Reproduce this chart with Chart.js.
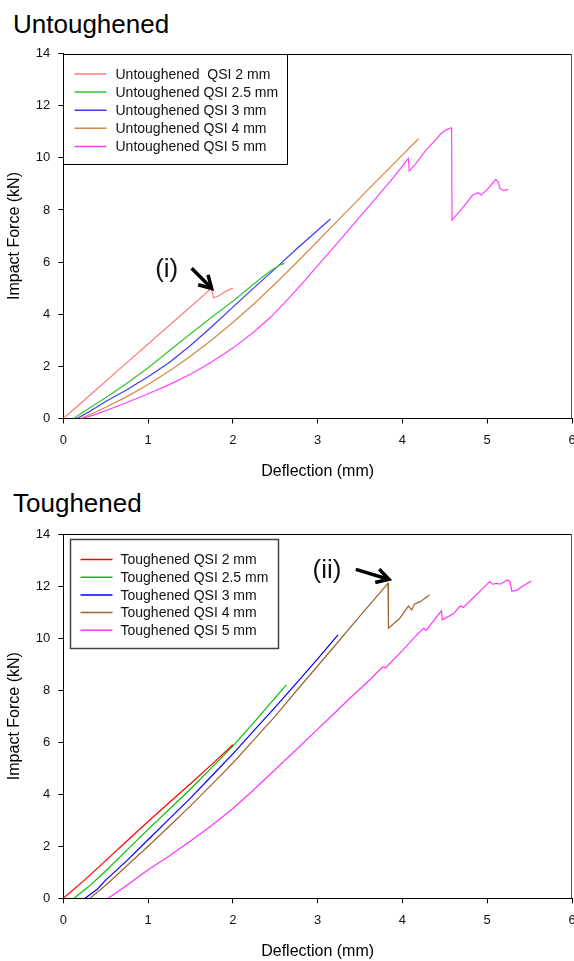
<!DOCTYPE html>
<html><head><meta charset="utf-8">
<script src="https://cdn.jsdelivr.net/npm/chart.js@4.4.0/dist/chart.umd.min.js"></script>
<style>
html,body{margin:0;padding:0;background:#fff;}
body{width:574px;height:961px;position:relative;overflow:hidden;font-family:"Liberation Sans",Arial,sans-serif;}
.ttl{position:absolute;left:13px;font-size:26px;line-height:26px;color:#000;white-space:nowrap;}
canvas{position:absolute;left:0;display:block;}
</style></head><body>
<div class="ttl" style="top:11px">Untoughened</div>
<div class="ttl" style="top:490px">Toughened</div>
<canvas id="c1" width="574" height="490" style="top:0"></canvas>
<canvas id="c2" width="574" height="471" style="top:490px"></canvas>
<script>
// ---- tick labels ----
const xTickVals = [0, 1, 2, 3, 4, 5, 6];
const yTickVals = [0, 2, 4, 6, 8, 10, 12, 14];

// ---- Untoughened series (deflection mm / force kN) ----
const u2x  = [0, 0.35, 0.7, 1.05, 1.4, 1.75, 1.77, 1.83, 1.9, 2.0];
const u2y  = [0, 1.0, 2.0, 3.0, 4.0, 5.0, 4.63, 4.7, 4.85, 5.0];
const u25x = [0.12, 0.3, 0.5, 0.75, 1.0, 1.25, 1.5, 1.75, 2.0, 2.3, 2.45, 2.55, 2.61];
const u25y = [0, 0.38, 0.8, 1.35, 1.95, 2.6, 3.25, 3.88, 4.5, 5.3, 5.68, 5.88, 5.95];
const u3x  = [0.16, 0.3, 0.5, 0.75, 1.0, 1.25, 1.5, 1.75, 2.0, 2.25, 2.5, 2.75, 3.0, 3.15];
const u3y  = [0, 0.25, 0.65, 1.1, 1.6, 2.15, 2.8, 3.52, 4.27, 5.02, 5.75, 6.5, 7.22, 7.65];
const u4x  = [0.2, 0.35, 0.5, 0.75, 1.0, 1.25, 1.5, 1.75, 2.0, 2.25, 2.5, 2.77, 3.0, 3.3, 3.6, 3.93, 4.19];
const u4y  = [0, 0.2, 0.43, 0.84, 1.3, 1.82, 2.39, 3.01, 3.68, 4.4, 5.17, 6.04, 6.8, 7.8, 8.8, 9.88, 10.73];
const u5x  = [0.22, 0.4, 0.6, 0.8, 1.0, 1.25, 1.5, 1.75, 2.0, 2.25, 2.45, 2.62, 2.79, 3.0, 3.26, 3.5, 3.7, 3.9, 4.07, 4.08, 4.15, 4.28, 4.38, 4.46, 4.52, 4.58, 4.585, 4.72, 4.83, 4.89, 4.93, 5.03, 5.10, 5.13, 5.15, 5.19, 5.25];
const u5y  = [0, 0.18, 0.42, 0.68, 0.95, 1.3, 1.7, 2.17, 2.7, 3.33, 3.9, 4.47, 5.08, 5.86, 6.83, 7.74, 8.5, 9.27, 9.98, 9.49, 9.75, 10.3, 10.65, 10.94, 11.08, 11.15, 7.61, 8.13, 8.57, 8.66, 8.57, 8.89, 9.17, 9.08, 8.83, 8.74, 8.79];
const untLabels = ["Untoughened  QSI 2 mm", "Untoughened QSI 2.5 mm", "Untoughened QSI 3 mm", "Untoughened QSI 4 mm", "Untoughened QSI 5 mm"];
const untColors = ["#ff7a7a", "#33c633", "#3a3aff", "#d08a45", "#ff40ff"];

// ---- Toughened series ----
const t2x  = [0, 0.25, 0.5, 0.75, 1.0, 1.25, 1.5, 1.8, 2.0];
const t2y  = [0, 0.7, 1.45, 2.2, 2.95, 3.68, 4.4, 5.29, 5.9];
const t25x = [0.126, 0.3, 0.5, 0.75, 1.0, 1.25, 1.5, 1.75, 2.0, 2.3, 2.63];
const t25y = [0, 0.45, 1.05, 1.85, 2.65, 3.42, 4.2, 5.02, 5.85, 6.95, 8.2];
const t3x  = [0.256, 0.4, 0.5, 0.75, 1.0, 1.25, 1.5, 1.75, 2.0, 2.25, 2.5, 2.75, 3.0, 3.24];
const t3y  = [0, 0.35, 0.7, 1.45, 2.25, 3.05, 3.85, 4.7, 5.55, 6.45, 7.35, 8.27, 9.2, 10.12];
const t4x  = [0.315, 0.5, 0.75, 1.0, 1.25, 1.5, 1.75, 2.0, 2.25, 2.5, 2.79, 3.24, 3.5, 3.83, 3.835, 3.97, 4.07, 4.11, 4.14, 4.21, 4.32];
const t4y  = [0, 0.5, 1.25, 2.0, 2.77, 3.55, 4.37, 5.2, 6.1, 7.0, 8.13, 9.85, 10.85, 12.1, 10.38, 10.76, 11.23, 11.08, 11.3, 11.4, 11.66];
const t5x  = [0.53, 0.75, 1.0, 1.25, 1.5, 1.75, 2.0, 2.25, 2.5, 2.75, 3.0, 3.2, 3.38, 3.6, 3.77, 3.8, 3.97, 4.17, 4.25, 4.28, 4.38, 4.46, 4.47, 4.6, 4.68, 4.72, 4.83, 4.93, 5.03, 5.06, 5.11, 5.15, 5.24, 5.27, 5.29, 5.35, 5.42, 5.52];
const t5y  = [0, 0.5, 1.1, 1.63, 2.2, 2.8, 3.45, 4.18, 4.95, 5.72, 6.5, 7.12, 7.69, 8.35, 8.9, 8.85, 9.42, 10.12, 10.38, 10.3, 10.72, 11.05, 10.7, 10.93, 11.23, 11.18, 11.53, 11.85, 12.17, 12.07, 12.1, 12.07, 12.23, 12.17, 11.81, 11.83, 12.0, 12.19];
const tLabels = ["Toughened QSI 2 mm", "Toughened QSI 2.5 mm", "Toughened QSI 3 mm", "Toughened QSI 4 mm", "Toughened QSI 5 mm"];
const tColors = ["#ff0000", "#00c400", "#0000ff", "#9a6530", "#ff33ff"];

// ---- annotations (data coordinates) ----
const noteTop = { text: "(i)", tx: 1.22, ty: 5.7, ax0: 1.514, ay0: 5.76, ax1: 1.75, ay1: 4.99 };
const noteBot = { text: "(ii)", tx: 3.11, ty: 12.58, ax0: 3.45, ay0: 12.64, ax1: 3.84, ay1: 12.26 };

const FAM = "'Liberation Sans', Arial, sans-serif";

function pts(xs, ys) { return xs.map((v, i) => ({ x: v, y: ys[i] })); }

function makeChart(id, cfg) {
  const framePlugin = {
    id: 'frame',
    afterDatasetsDraw(chart) {
      const { ctx, chartArea: a } = chart;
      ctx.save();
      ctx.lineWidth = 1;
      ctx.strokeStyle = '#000';
      const t = Math.round(a.top) + 0.5, r = Math.round(a.right) - 0.5;
      ctx.beginPath(); ctx.moveTo(a.left, t); ctx.lineTo(r, t); ctx.stroke();
      ctx.strokeStyle = '#555';
      ctx.beginPath(); ctx.moveTo(r, t); ctx.lineTo(r, a.bottom); ctx.stroke();
      ctx.restore();
    }
  };
  const legendPlugin = {
    id: 'boxLegend',
    afterDatasetsDraw(chart) {
      const { ctx, chartArea: a } = chart;
      const L = cfg.legend;
      const bx = Math.round(a.left + L.dx) + 0.5, by = Math.round(a.top + L.dy) + 0.5;
      ctx.save();
      ctx.fillStyle = '#fff';
      ctx.fillRect(bx, by, L.w, L.h);
      ctx.strokeStyle = L.border; ctx.lineWidth = L.bw;
      ctx.strokeRect(bx, by, L.w, L.h);
      ctx.font = '14px ' + FAM;
      ctx.textBaseline = 'middle'; ctx.textAlign = 'left';
      chart.data.datasets.forEach((ds, i) => {
        const yy = by + L.row0 + i * L.rowH;
        ctx.strokeStyle = ds.borderColor; ctx.lineWidth = 1.5;
        ctx.beginPath(); ctx.moveTo(bx + L.l0, yy); ctx.lineTo(bx + L.l1, yy); ctx.stroke();
        ctx.fillStyle = '#111';
        ctx.fillText(ds.label, bx + L.tx, yy + 1);
      });
      ctx.restore();
    }
  };
  const notePlugin = {
    id: 'note',
    afterDatasetsDraw(chart) {
      const { ctx, scales: { x, y } } = chart;
      const n = cfg.note;
      ctx.save();
      ctx.fillStyle = '#111';
      ctx.font = '26px ' + FAM;
      ctx.textAlign = 'center'; ctx.textBaseline = 'middle';
      ctx.fillText(n.text, x.getPixelForValue(n.tx), y.getPixelForValue(n.ty));
      const x0 = x.getPixelForValue(n.ax0), y0 = y.getPixelForValue(n.ay0);
      const x1 = x.getPixelForValue(n.ax1), y1 = y.getPixelForValue(n.ay1);
      const ang = Math.atan2(y1 - y0, x1 - x0);
      ctx.strokeStyle = '#000'; ctx.lineWidth = 3.5; ctx.lineCap = 'butt'; ctx.lineJoin = 'miter';
      ctx.beginPath(); ctx.moveTo(x0, y0); ctx.lineTo(x1 - 2 * Math.cos(ang), y1 - 2 * Math.sin(ang)); ctx.stroke();
      const hl = 14, ha = 0.52;
      ctx.beginPath();
      ctx.moveTo(x1 - hl * Math.cos(ang - ha), y1 - hl * Math.sin(ang - ha));
      ctx.lineTo(x1, y1);
      ctx.lineTo(x1 - hl * Math.cos(ang + ha), y1 - hl * Math.sin(ang + ha));
      ctx.stroke();
      ctx.restore();
    }
  };
  return new Chart(document.getElementById(id), {
    type: 'line',
    data: {
      datasets: cfg.series.map((s, i) => ({
        label: cfg.labels[i], data: pts(s[0], s[1]),
        borderColor: cfg.colors[i], backgroundColor: cfg.colors[i],
        borderWidth: 1.2, pointRadius: 0, fill: false, tension: 0
      }))
    },
    options: {
      responsive: false, animation: false, devicePixelRatio: 1,
      layout: { padding: { top: cfg.top, right: 2, left: 0, bottom: 0 } },
      plugins: { legend: { display: false }, tooltip: { enabled: false }, title: { display: false } },
      scales: {
        x: {
          type: 'linear', min: 0, max: 6,
          afterBuildTicks: s => { s.ticks = xTickVals.map(v => ({ value: v })); },
          afterFit: s => { s.height = cfg.xh; s.paddingLeft = 0; s.paddingRight = 0; },
          grid: { display: true, drawOnChartArea: false, drawTicks: true, tickLength: 5, color: '#000', lineWidth: 1 },
          border: { display: true, color: '#000', width: 1 },
          ticks: { font: { family: FAM, size: 13 }, color: '#111', padding: 9, maxRotation: 0, autoSkip: false },
          title: { display: true, text: 'Deflection (mm)', font: { family: FAM, size: 16 }, color: '#000', padding: { top: 0, bottom: cfg.xtpad } }
        },
        y: {
          type: 'linear', min: 0, max: 14,
          afterBuildTicks: s => { s.ticks = yTickVals.map(v => ({ value: v })); },
          afterFit: s => { s.width = 63.3; s.paddingTop = 0; s.paddingBottom = 0; },
          grid: { display: true, drawOnChartArea: false, drawTicks: true, tickLength: 5, color: '#000', lineWidth: 1 },
          border: { display: true, color: '#000', width: 1 },
          ticks: { font: { family: FAM, size: 13 }, color: '#111', padding: 8, autoSkip: false },
          title: { display: true, text: 'Impact Force (kN)', font: { family: FAM, size: 16 }, color: '#000', padding: { top: 5.4, bottom: 0 } }
        }
      }
    },
    plugins: [framePlugin, legendPlugin, notePlugin]
  });
}

makeChart('c1', {
  series: [[u2x, u2y], [u25x, u25y], [u3x, u3y], [u4x, u4y], [u5x, u5y]],
  labels: untLabels, colors: untColors,
  top: 53.5, xh: 490 - 418.5, xtpad: 8.9,
  legend: { dx: 0, dy: 0, w: 224, h: 110, border: '#000', bw: 1, l0: 11, l1: 43, tx: 52, row0: 19.5, rowH: 18.1 },
  note: noteTop
});
makeChart('c2', {
  series: [[t2x, t2y], [t25x, t25y], [t3x, t3y], [t4x, t4y], [t5x, t5y]],
  labels: tLabels, colors: tColors,
  top: 44, xh: 471 - 408.3, xtpad: 0,
  legend: { dx: 6.7, dy: 5.3, w: 208, h: 109, border: '#444', bw: 1.5, l0: 10, l1: 42, tx: 50, row0: 20, rowH: 17.7 },
  note: noteBot
});
</script>
</body></html>
